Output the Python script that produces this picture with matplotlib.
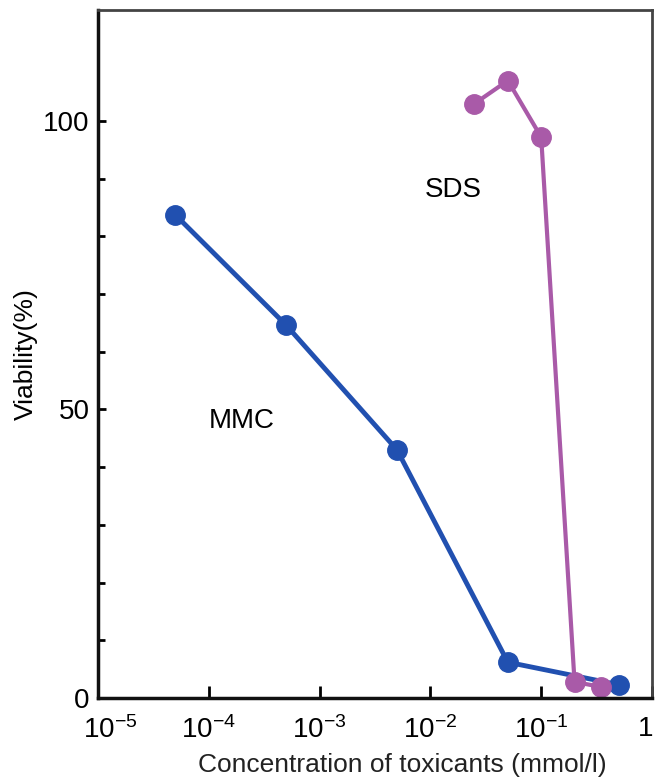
import matplotlib
matplotlib.use("Agg")
import matplotlib.pyplot as plt
import matplotlib.transforms as mtransforms
from matplotlib.ticker import FixedLocator, MultipleLocator, NullLocator

plt.rcParams['font.family'] = ['Liberation Sans', 'DejaVu Sans']
plt.rcParams['mathtext.fontset'] = 'custom'
plt.rcParams['mathtext.rm'] = 'Liberation Sans'
plt.rcParams['mathtext.it'] = 'Liberation Sans'

# values
mmc_conc = [5e-5, 5e-4, 5e-3, 0.05, 0.5]
mmc_viab = [83.7, 64.6, 43.0, 6.2, 2.3]
sds_conc = [0.025, 0.05, 0.1, 0.2, 0.35]
sds_viab = [103.0, 107.0, 97.2, 2.8, 1.9]

xticks = [1e-5, 1e-4, 1e-3, 1e-2, 1e-1, 1]
xticklabels = ['$10^{-5}$', '$10^{-4}$', '$10^{-3}$', '$10^{-2}$', '$10^{-1}$', '1']
yticks = [0, 50, 100]

blue = '#2150b0'
purple = '#a95aa8'

fig = plt.figure(figsize=(6.55, 7.82), dpi=100)
ax = fig.add_axes([0.1496, 0.1074, 0.8458, 0.8796])

ax.plot(mmc_conc, mmc_viab, '-o', color=blue, lw=3.5, ms=14)
ax.plot(sds_conc, sds_viab, '-o', color=purple, lw=3, ms=14)

ax.set_xscale('log')
ax.set_xlim(1e-5, 1)
ax.set_ylim(0, 119.2)
ax.xaxis.set_major_locator(FixedLocator(xticks))
ax.xaxis.set_minor_locator(NullLocator())
ax.set_xticklabels(xticklabels)
ax.set_yticks(yticks)
ax.yaxis.set_minor_locator(FixedLocator([10, 20, 30, 40, 60, 70, 80, 90]))

ax.tick_params(axis='x', which='major', direction='in', length=9, width=2,
               labelsize=20, pad=13)
ax.tick_params(axis='y', which='major', direction='in', length=6, width=2,
               labelsize=20, pad=6)
ax.tick_params(axis='y', which='minor', direction='in', length=5, width=2)

for side in ['left', 'bottom']:
    ax.spines[side].set_linewidth(2.5)
    ax.spines[side].set_color('#111111')
for side in ['top', 'right']:
    ax.spines[side].set_linewidth(2)
    ax.spines[side].set_color('#444444')

# nudge first and last tick labels inside the figure
labs = ax.get_xticklabels()
labs[0].set_transform(labs[0].get_transform() + mtransforms.ScaledTranslation(0.12, 0, fig.dpi_scale_trans))
labs[-1].set_transform(labs[-1].get_transform() + mtransforms.ScaledTranslation(-0.06, 0, fig.dpi_scale_trans))

ax.set_xlabel('Concentration of toxicants (mmol/l)', fontsize=19, color='#222222')
ax.xaxis.set_label_coords(0.549, -0.08)
ax.set_ylabel('Viability(%)', fontsize=19, labelpad=4)

ax.text(2e-4, 48, 'MMC', fontsize=20, ha='center', va='center')
ax.text(0.016, 88, 'SDS', fontsize=20, ha='center', va='center')

fig.savefig('out.png', dpi=100)
